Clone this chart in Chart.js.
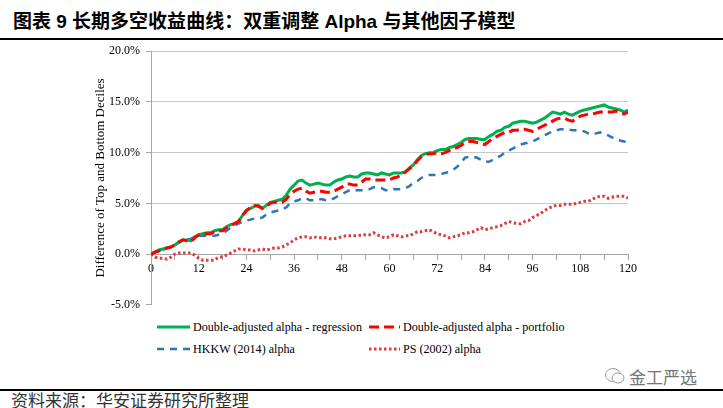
<!DOCTYPE html>
<html>
<head>
<meta charset="utf-8">
<script src="https://cdn.jsdelivr.net/npm/chart.js@4.4.1/dist/chart.umd.min.js"></script>
<style>
  body { margin: 0; width: 723px; height: 408px; background: #fff; overflow: hidden; position: relative; }
  #title { position: absolute; left: 13px; top: 6px; font-family: "Liberation Sans", "Noto Sans CJK SC", sans-serif; font-weight: bold; font-size: 19px; color: #000; white-space: nowrap; }
  #topRule { position: absolute; left: 0; top: 38px; width: 723px; height: 2px; background: #000; }
  #chartBox { position: absolute; left: 0; top: 38px; width: 723px; height: 280px; }
  .leg { position: absolute; font-family: "Liberation Serif", "Times New Roman", serif; font-size: 12.1px; color: #000; white-space: nowrap; line-height: 16px; }
  .leg svg { vertical-align: middle; margin-right: 3px; position: relative; top: -1px; }
  #botRule { position: absolute; left: 0; top: 389px; width: 723px; height: 1.5px; background: #000; }
  #source { position: absolute; left: 11px; top: 387px; font-family: "Noto Sans CJK SC", sans-serif; font-size: 17px; color: #333; white-space: nowrap; }
  #mark { position: absolute; left: 629px; top: 364px; font-family: "Noto Sans CJK SC", sans-serif; font-size: 17px; color: #777; white-space: nowrap; }
  #icon { position: absolute; left: 604px; top: 366px; }
</style>
</head>
<body>
<div id="title">图表 9 长期多空收益曲线：双重调整 Alpha 与其他因子模型</div>
<div id="topRule"></div>
<div id="chartBox"><canvas id="chart"></canvas></div>

<div class="leg" style="left:157px; top:319px;"><svg width="33" height="6"><line x1="0" y1="3" x2="33" y2="3" stroke="#00B050" stroke-width="3"/></svg>Double-adjusted alpha - regression</div>
<div class="leg" style="left:369px; top:319px;"><svg width="31" height="6"><line x1="0" y1="3" x2="31" y2="3" stroke="#FF0000" stroke-width="3" stroke-dasharray="10,5"/></svg>Double-adjusted alpha - portfolio</div>
<div class="leg" style="left:157px; top:341px;"><svg width="33" height="6"><line x1="0" y1="3" x2="33" y2="3" stroke="#2E75B6" stroke-width="2.5" stroke-dasharray="7,6"/></svg>HKKW (2014) alpha</div>
<div class="leg" style="left:369px; top:341px;"><svg width="31" height="6"><line x1="0" y1="3" x2="31" y2="3" stroke="#DC3C3C" stroke-width="3" stroke-dasharray="2.5,2.5"/></svg>PS (2002) alpha</div>

<svg id="icon" width="22" height="20"><ellipse cx="9" cy="9" rx="7.5" ry="6.5" fill="none" stroke="#999" stroke-width="1"/><ellipse cx="14" cy="12" rx="6" ry="5" fill="#fff" stroke="#999" stroke-width="1"/></svg>
<div id="mark">金工严选</div>
<div id="botRule"></div>
<div id="source">资料来源：华安证券研究所整理</div>

<script>
// months since formation (0..120)
const months = Array.from({ length: 121 }, (_, i) => i);

// values in %
const regression = [
  0.0, 0.2, 0.4, 0.5, 0.6, 0.7, 0.9, 1.2, 1.4, 1.4, 1.3, 1.7, 1.9, 2.0, 2.1, 2.1, 2.3, 2.4, 2.4, 2.7,
  2.9, 3.0, 3.2, 3.8, 4.3, 4.5, 4.7, 4.8, 4.5, 4.8, 5.1, 5.2, 5.3, 5.4, 5.8, 6.4, 6.8, 7.2, 7.3, 7.0,
  6.8, 6.9, 7.0, 6.9, 6.8, 6.8, 7.1, 7.3, 7.4, 7.6, 7.7, 7.6, 7.6, 7.9, 8.0, 8.0, 7.9, 7.8, 8.0, 7.9,
  7.8, 8.0, 8.0, 8.0, 8.1, 8.5, 8.8, 9.3, 9.7, 9.9, 10.0, 10.0, 10.2, 10.3, 10.3, 10.5, 10.6, 10.8, 11.0, 11.3,
  11.4, 11.4, 11.4, 11.3, 11.3, 11.6, 11.8, 12.1, 12.2, 12.5, 12.6, 12.9, 13.0, 13.1, 13.1, 13.0, 12.9, 13.0, 13.2, 13.4,
  13.7, 14.0, 13.9, 13.8, 14.0, 13.8, 13.7, 13.9, 14.1, 14.2, 14.3, 14.4, 14.5, 14.6, 14.7, 14.5, 14.4, 14.3, 14.2, 14.0,
  14.2
];
const portfolio = [
  0.0, 0.2, 0.3, 0.5, 0.6, 0.7, 0.9, 1.2, 1.4, 1.3, 1.2, 1.6, 1.9, 2.0, 2.0, 2.0, 2.2, 2.3, 2.3, 2.6,
  2.8, 3.0, 3.2, 3.8, 4.3, 4.6, 4.8, 4.7, 4.5, 4.7, 5.0, 5.1, 5.1, 5.1, 5.4, 5.9, 6.2, 6.4, 6.5, 6.2,
  6.0, 6.1, 6.2, 6.2, 6.1, 6.1, 6.2, 6.4, 6.6, 6.9, 6.9, 6.8, 6.8, 7.1, 7.4, 7.4, 7.3, 7.3, 7.3, 7.3,
  7.3, 7.5, 7.6, 7.8, 8.1, 8.4, 8.7, 9.2, 9.6, 9.8, 9.9, 9.9, 10.0, 9.9, 10.0, 10.2, 10.4, 10.5, 10.7, 11.0,
  11.1, 11.1, 11.0, 10.9, 10.8, 11.1, 11.4, 11.6, 11.8, 12.0, 12.0, 12.2, 12.2, 12.3, 12.3, 12.2, 12.1, 12.3, 12.5, 12.7,
  12.9, 13.1, 13.3, 13.4, 13.4, 13.2, 13.1, 13.3, 13.6, 13.7, 13.8, 13.8, 13.9, 14.0, 14.0, 14.0, 14.0, 14.1, 14.0, 13.8,
  14.0
];
const hkkw = [
  0.0, 0.2, 0.3, 0.4, 0.6, 0.7, 0.9, 1.1, 1.3, 1.4, 1.5, 1.7, 1.8, 1.8, 1.8, 1.8, 1.8, 1.9, 2.0, 2.3,
  2.6, 2.8, 3.0, 3.2, 3.3, 3.4, 3.5, 3.5, 3.6, 3.9, 4.1, 4.2, 4.3, 4.4, 4.6, 5.0, 5.2, 5.3, 5.5, 5.5,
  5.3, 5.3, 5.4, 5.4, 5.3, 5.3, 5.5, 5.7, 5.9, 6.1, 6.3, 6.3, 6.3, 6.3, 6.3, 6.4, 6.6, 6.6, 6.5, 6.3,
  6.3, 6.4, 6.4, 6.4, 6.5, 6.7, 7.0, 7.2, 7.5, 7.7, 7.8, 7.8, 7.8, 7.9, 8.0, 8.1, 8.3, 8.6, 9.0, 9.5,
  9.6, 9.6, 9.5, 9.3, 9.1, 9.1, 9.3, 9.5, 9.7, 10.0, 10.2, 10.4, 10.6, 10.8, 10.9, 11.0, 11.1, 11.3, 11.5, 11.7,
  11.9, 12.1, 12.2, 12.3, 12.3, 12.3, 12.2, 12.2, 12.2, 12.1, 11.9, 11.8, 11.9, 12.0, 11.9, 11.7, 11.5, 11.3, 11.2, 11.1,
  11.0
];
const ps = [
  0.0, -0.3, -0.4, -0.4, -0.5, -0.3, 0.0, 0.1, 0.1, 0.1, 0.1, -0.1, -0.4, -0.6, -0.6, -0.6, -0.6, -0.3, -0.3, -0.1,
  0.1, 0.3, 0.5, 0.5, 0.4, 0.4, 0.3, 0.4, 0.5, 0.4, 0.5, 0.6, 0.6, 0.7, 0.9, 1.1, 1.4, 1.6, 1.7, 1.7,
  1.6, 1.7, 1.6, 1.6, 1.6, 1.5, 1.5, 1.6, 1.7, 1.8, 1.8, 1.8, 1.8, 1.9, 1.9, 1.9, 2.1, 1.9, 1.7, 1.6,
  1.7, 1.9, 1.8, 1.7, 1.8, 1.8, 2.0, 2.2, 2.2, 2.3, 2.4, 2.2, 2.0, 1.9, 1.8, 1.6, 1.7, 1.8, 1.9, 2.1,
  2.1, 2.2, 2.4, 2.6, 2.4, 2.5, 2.6, 2.7, 2.8, 3.0, 3.2, 3.1, 3.0, 3.0, 3.2, 3.3, 3.6, 3.8, 4.0, 4.3,
  4.5, 4.7, 4.8, 4.8, 4.9, 4.9, 4.9, 5.0, 5.1, 5.2, 5.2, 5.4, 5.6, 5.7, 5.7, 5.5, 5.6, 5.7, 5.7, 5.7,
  5.5
];

const yTicks = [-5, 0, 5, 10, 15, 20];
const xLabelStep = 12;

function pts(vals) {
  return months.map((m, i) => ({ x: m, y: vals[i] }));
}

const serif = "'Liberation Serif', 'Times New Roman', serif";

new Chart(document.getElementById('chart'), {
  type: 'line',
  data: {
    datasets: [
      { label: 'Double-adjusted alpha - portfolio', data: pts(portfolio), borderColor: '#FF0000', borderWidth: 3, borderDash: [10, 5], order: 0 },
      { label: 'Double-adjusted alpha - regression', data: pts(regression), borderColor: '#00B050', borderWidth: 3, order: 1 },
      { label: 'HKKW (2014) alpha', data: pts(hkkw), borderColor: '#2E75B6', borderWidth: 2.5, borderDash: [7, 6], order: 2 },
      { label: 'PS (2002) alpha', data: pts(ps), borderColor: '#DC3C3C', borderWidth: 3, borderDash: [2.5, 2.5], order: 3 }
    ]
  },
  options: {
    responsive: true,
    maintainAspectRatio: false,
    animation: false,
    layout: { padding: { left: 89, right: 95, top: 10, bottom: 8 } },
    elements: { point: { radius: 0 }, line: { tension: 0, fill: false } },
    plugins: { legend: { display: false }, tooltip: { enabled: false } },
    scales: {
      x: {
        type: 'linear',
        position: { y: 0 },
        min: 0,
        max: 120,
        border: { color: '#A6A6A6', width: 1 },
        grid: { drawOnChartArea: false, drawTicks: true, tickLength: 5, color: '#A6A6A6' },
        ticks: {
          stepSize: 6,
          padding: 3,
          maxRotation: 0,
          autoSkip: false,
          color: '#000',
          font: { family: serif, size: 12 },
          callback: v => (v % xLabelStep === 0 ? String(v) : '')
        }
      },
      y: {
        min: -5,
        max: 20,
        afterFit: s => { s.width = 62; },
        afterBuildTicks: s => { s.ticks = yTicks.map(v => ({ value: v })); },
        border: { color: '#A6A6A6', width: 1 },
        grid: {
          drawTicks: true,
          tickLength: 5,
          color: c => (c.tick && c.tick.value === -5 ? 'rgba(0,0,0,0)' : '#C8C8C8'),
          tickColor: '#A6A6A6'
        },
        ticks: {
          padding: 6,
          color: '#000',
          font: { family: serif, size: 12 },
          callback: v => v.toFixed(1) + '%'
        },
        title: {
          display: true,
          text: 'Difference of Top and Bottom Deciles',
          color: '#000',
          font: { family: serif, size: 13 },
          padding: { top: 4, bottom: 0 }
        }
      }
    }
  }
});
</script>
</body>
</html>
